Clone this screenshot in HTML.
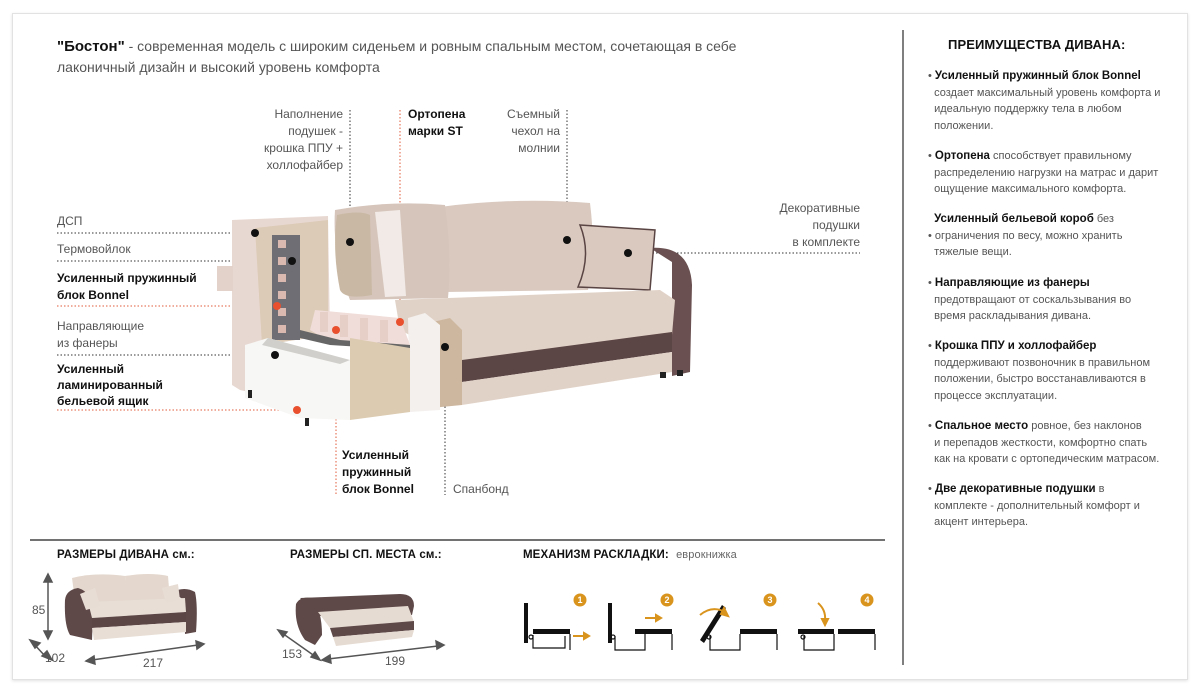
<!DOCTYPE html>
<html><head><meta charset="utf-8"><style>
*{margin:0;padding:0;box-sizing:border-box}
body{width:1200px;height:694px;background:#fff;position:relative;overflow:hidden;font-family:"Liberation Sans",sans-serif;color:#444}
.card{position:absolute;left:12px;top:13px;width:1176px;height:667px;border:1px solid #e2e2e2;box-shadow:0 1px 3px rgba(0,0,0,.12);background:#fff}
.t{position:absolute;font-size:12px;line-height:17px;color:#555;white-space:nowrap}
.b{font-weight:bold;color:#111}
.r{text-align:right}
.hd{position:absolute;font-size:11.5px;font-weight:bold;color:#111;letter-spacing:.1px}
.adv{position:absolute;left:928px;width:250px;font-size:11px;line-height:16.5px;color:#555}
.adv b{color:#111;font-weight:900;font-size:11.5px}
</style></head><body>
<div class="card"></div>
<div class="t" style="left:57px;top:36px;font-size:14px;line-height:21px;color:#555"><b style="color:#111;font-size:15px">"Бостон"</b> - современная модель с широким сиденьем и ровным спальным местом, сочетающая в себе<br>лаконичный дизайн и высокий уровень комфорта</div>

<svg style="position:absolute;left:0;top:0" width="1200" height="694">
<g fill="none" stroke-width="1" stroke-dasharray="1.5,2">
<line x1="57" y1="233" x2="255" y2="233" stroke="#333"/>
<line x1="57" y1="261" x2="292" y2="261" stroke="#333"/>
<line x1="57" y1="306" x2="277" y2="306" stroke="#e05a3a"/>
<line x1="57" y1="355" x2="275" y2="355" stroke="#333"/>
<line x1="57" y1="410" x2="297" y2="410" stroke="#e05a3a"/>
<line x1="350" y1="110" x2="350" y2="242" stroke="#333"/>
<line x1="400" y1="110" x2="400" y2="320" stroke="#e05a3a"/>
<line x1="567" y1="110" x2="567" y2="240" stroke="#333"/>
<line x1="628" y1="253" x2="860" y2="253" stroke="#333"/>
<line x1="336" y1="370" x2="336" y2="495" stroke="#e05a3a"/>
<line x1="445" y1="347" x2="445" y2="495" stroke="#333"/>
</g>
<!-- sofa -->
<path d="M440 207 Q515 197 590 203 Q596 250 588 290 L445 292 Q436 250 440 207Z" fill="#d9c9bf"/>
<path d="M335 210 Q390 200 445 205 Q452 255 448 298 L350 300 Q332 255 335 210Z" fill="#d6c5bb"/>
<path d="M337 215 Q360 210 370 215 L372 295 Q345 300 340 290 Q332 250 337 215Z" fill="#c9b9a4"/>
<path d="M375 212 L400 210 L406 296 L385 297Z" fill="#f1eae6"/>
<path d="M650 248 Q690 245 692 285 L690 372 L672 376 L672 262Z" fill="#6a5050"/>
<path d="M580 225 L655 230 L650 290 L578 287 Q592 255 580 225Z" fill="#d9c9bf" stroke="#5a4443" stroke-width="1.5"/>
<path d="M395 300 L660 290 L675 300 L672 335 L462 362 L400 330Z" fill="#e1d2c7"/>
<path d="M462 360 L672 332 L672 352 L462 382Z" fill="#5c4545"/>
<path d="M462 382 L672 352 L672 372 L462 405Z" fill="#e1d2c7"/>
<path d="M420 325 L450 318 L462 330 L462 405 L410 410Z" fill="#cdb79f"/>
<path d="M408 318 L425 313 L440 325 L440 410 L410 412Z" fill="#f4f0ee"/>
<path d="M232 220 L328 216 L330 335 L262 345 L262 395 L240 390 L232 385Z" fill="#e8d8d2"/>
<path d="M255 228 L328 220 L328 335 L262 345Z" fill="#dccbb6"/>
<rect x="217" y="266" width="16" height="25" fill="#e3d2c9"/>
<rect x="272" y="235" width="28" height="105" fill="#6e6e74"/>
<g fill="#d9b9b0"><rect x="278" y="240" width="8" height="8"/><rect x="278" y="257" width="8" height="8"/><rect x="278" y="274" width="8" height="8"/><rect x="278" y="291" width="8" height="8"/><rect x="278" y="308" width="8" height="8"/><rect x="278" y="325" width="8" height="8"/></g>
<path d="M315 310 L400 318 L410 345 L335 345 L310 330Z" fill="#f0dcd8"/>
<path d="M300 330 L340 340 L410 345 L410 350 L330 345 L300 338Z" fill="#666"/>
<g fill="#e6cfc7"><rect x="320" y="312" width="8" height="20"/><rect x="340" y="315" width="8" height="22"/><rect x="360" y="318" width="8" height="22"/><rect x="380" y="320" width="8" height="22"/></g>
<path d="M350 338 L410 348 L410 412 L350 420Z" fill="#dccbb0"/>
<path d="M245 345 L268 338 L350 360 L350 420 L300 418 L245 398Z" fill="#f7f7f5"/>
<path d="M268 338 L350 360 L340 364 L262 345Z" fill="#d0cfcb"/>
<rect x="248" y="390" width="4" height="8" fill="#222"/><rect x="305" y="418" width="4" height="8" fill="#222"/>
<rect x="660" y="372" width="6" height="6" fill="#222"/><rect x="677" y="370" width="6" height="6" fill="#222"/>
<g fill="#111"><circle cx="255" cy="233" r="4"/><circle cx="292" cy="261" r="4"/><circle cx="275" cy="355" r="4"/><circle cx="350" cy="242" r="4"/><circle cx="567" cy="240" r="4"/><circle cx="628" cy="253" r="4"/><circle cx="445" cy="347" r="4"/></g>
<g fill="#e8502e"><circle cx="277" cy="306" r="4"/><circle cx="297" cy="410" r="4"/><circle cx="336" cy="330" r="4"/><circle cx="400" cy="322" r="4"/></g>
<!-- dividers -->
<line x1="903" y1="30" x2="903" y2="665" stroke="#555" stroke-width="1.5"/>
<line x1="30" y1="540" x2="885" y2="540" stroke="#444" stroke-width="1.5"/>
<!-- small sofa 1 -->
<path d="M72 578 Q95 572 125 576 L128 605 L76 608Z" fill="#e4d8ce"/>
<path d="M125 576 Q150 572 168 576 L170 600 L127 603Z" fill="#e4d8ce"/>
<path d="M65 600 Q66 590 78 588 Q92 592 93 612 L92 640 L70 635 Q64 625 65 600Z" fill="#5e4848"/>
<path d="M172 592 Q185 586 195 592 Q198 605 196 632 L185 634 L184 600Z" fill="#5e4848"/>
<path d="M88 602 L185 598 L186 612 L92 618Z" fill="#e8ded5"/>
<path d="M92 618 L186 612 L186 622 L92 628Z" fill="#5c4545"/>
<path d="M92 628 L186 622 L186 632 L94 640Z" fill="#e8ded5"/>
<path d="M80 594 L95 588 L100 606 L86 610Z" fill="#e8ddd5"/>
<path d="M162 588 L178 584 L180 600 L166 603Z" fill="#e8ddd5"/>
<!-- small sofa 2 -->
<path d="M300 598 L400 594 Q414 594 414 606 L412 615 L320 616 Z" fill="#5e4848"/>
<path d="M296 604 Q300 596 312 598 Q322 610 322 635 L315 645 L305 640 Q294 625 296 604Z" fill="#5e4848"/>
<path d="M318 612 L408 606 L414 622 L330 628Z" fill="#e6dbd2"/>
<path d="M330 628 L414 621 L414 630 L333 637Z" fill="#5e4848"/>
<path d="M333 637 L414 630 L412 637 L336 646Z" fill="#e6dbd2"/>
<g stroke="#555" stroke-width="1.5" fill="#555">
<line x1="48" y1="578" x2="48" y2="635"/><path d="M44 582 L48 574 L52 582Z"/><path d="M44 631 L48 639 L52 631Z"/>
<line x1="33" y1="643" x2="45" y2="656"/><path d="M52 660 L42 656 L47 651Z"/>
<path d="M30 640 L40 643 L35 648Z"/>
<line x1="92" y1="660" x2="198" y2="645"/><path d="M86 661 L94 656 L95 664Z"/><path d="M204 644 L196 641 L197 649Z"/>
<line x1="282" y1="633" x2="316" y2="657"/><path d="M278 630 L287 632 L283 637Z"/><path d="M320 660 L311 657 L315 652Z"/>
<line x1="328" y1="659" x2="438" y2="646"/><path d="M322 660 L330 655 L331 663Z"/><path d="M444 645 L436 641 L437 649Z"/>
</g>
<!-- mechanism -->
<g fill="#d9941e"><circle cx="580" cy="600" r="6.5"/><circle cx="667" cy="600" r="6.5"/><circle cx="770" cy="600" r="6.5"/><circle cx="867" cy="600" r="6.5"/></g>
<g fill="#fff" font-size="9" font-weight="bold" text-anchor="middle" font-family="Liberation Sans"><text x="580" y="603">1</text><text x="667" y="603">2</text><text x="770" y="603">3</text><text x="867" y="603">4</text></g>
<g fill="#111">
<rect x="524" y="603" width="4" height="40"/><rect x="533" y="629" width="37" height="5"/>
<rect x="608" y="603" width="4" height="40"/><rect x="635" y="629" width="37" height="5"/>
<path d="M700 640 L722 605 L726 608 L704 643Z"/><rect x="740" y="629" width="37" height="5"/>
<rect x="798" y="629" width="36" height="5"/><rect x="838" y="629" width="37" height="5"/>
</g>
<g fill="none" stroke="#111" stroke-width="1.2">
<path d="M533 635 L533 648 L565 648 L565 636 M570 634 L570 650"/>
<path d="M615 636 L615 650 L645 650 L645 634 M672 634 L672 650"/>
<path d="M710 636 L710 650 L740 650 L740 634 M777 634 L777 650"/>
<path d="M804 636 L804 650 L834 650 L834 634 M875 634 L875 650"/>
<circle cx="531" cy="637" r="2"/><circle cx="613" cy="637" r="2"/><circle cx="709" cy="637" r="2"/><circle cx="803" cy="637" r="2"/>
</g>
<g stroke="#d9941e" stroke-width="2" fill="#d9941e">
<line x1="573" y1="636" x2="584" y2="636"/><path d="M584 633 L589 636 L584 639Z"/>
<line x1="645" y1="618" x2="656" y2="618"/><path d="M656 615 L661 618 L656 621Z"/>
<path d="M700 615 Q712 605 725 612" fill="none"/><path d="M724 608 L728 616 L721 614Z"/>
<path d="M818 603 Q826 610 825 620" fill="none"/><path d="M822 619 L825 625 L828 619Z"/>
</g>
</svg>

<div class="t" style="left:57px;top:213px">ДСП</div>
<div class="t" style="left:57px;top:241px">Термовойлок</div>
<div class="t b" style="left:57px;top:270px">Усиленный пружинный<br>блок Bonnel</div>
<div class="t" style="left:57px;top:318px">Направляющие<br>из фанеры</div>
<div class="t b" style="left:57px;top:361px;line-height:16px">Усиленный<br>ламинированный<br>бельевой ящик</div>
<div class="t r" style="right:857px;top:106px">Наполнение<br>подушек -<br>крошка ППУ +<br>холлофайбер</div>
<div class="t b" style="left:408px;top:106px">Ортопена<br>марки ST</div>
<div class="t r" style="right:640px;top:106px">Съемный<br>чехол на<br>молнии</div>
<div class="t r" style="right:340px;top:200px">Декоративные<br>подушки<br>в комплекте</div>
<div class="t b" style="left:342px;top:447px">Усиленный<br>пружинный<br>блок Bonnel</div>
<div class="t" style="left:453px;top:481px">Спанбонд</div>

<div class="hd" style="left:57px;top:549px">РАЗМЕРЫ ДИВАНА см.:</div>
<div class="hd" style="left:290px;top:549px">РАЗМЕРЫ СП. МЕСТА см.:</div>
<div class="hd" style="left:523px;top:549px">МЕХАНИЗМ РАСКЛАДКИ: <span style="font-weight:normal;color:#666;font-size:11px;margin-left:4px">еврокнижка</span></div>
<div class="t" style="left:32px;top:602px">85</div>
<div class="t" style="left:45px;top:650px">102</div>
<div class="t" style="left:143px;top:655px">217</div>
<div class="t" style="left:282px;top:646px">153</div>
<div class="t" style="left:385px;top:653px">199</div>

<div class="hd" style="left:948px;top:37px;font-size:13px;font-weight:900">ПРЕИМУЩЕСТВА ДИВАНА:</div>
<div class="adv" style="top:68px">• <b>Усиленный пружинный блок Bonnel</b><br>&nbsp;&nbsp;создает максимальный уровень комфорта и<br>&nbsp;&nbsp;идеальную поддержку тела в любом<br>&nbsp;&nbsp;положении.</div>
<div class="adv" style="top:148px">• <b>Ортопена</b> способствует правильному<br>&nbsp;&nbsp;распределению нагрузки на матрас и дарит<br>&nbsp;&nbsp;ощущение максимального комфорта.</div>
<div class="adv" style="top:211px">&nbsp;&nbsp;<b>Усиленный бельевой короб</b> без<br>• ограничения по весу, можно хранить<br>&nbsp;&nbsp;тяжелые вещи.</div>
<div class="adv" style="top:275px">• <b>Направляющие из фанеры</b><br>&nbsp;&nbsp;предотвращают от соскальзывания во<br>&nbsp;&nbsp;время раскладывания дивана.</div>
<div class="adv" style="top:338px">• <b>Крошка ППУ и холлофайбер</b><br>&nbsp;&nbsp;поддерживают позвоночник в правильном<br>&nbsp;&nbsp;положении, быстро восстанавливаются в<br>&nbsp;&nbsp;процессе эксплуатации.</div>
<div class="adv" style="top:418px">• <b>Спальное место</b> ровное, без наклонов<br>&nbsp;&nbsp;и перепадов жесткости, комфортно спать<br>&nbsp;&nbsp;как на кровати с ортопедическим матрасом.</div>
<div class="adv" style="top:481px">• <b>Две декоративные подушки</b> в<br>&nbsp;&nbsp;комплекте - дополнительный комфорт и<br>&nbsp;&nbsp;акцент интерьера.</div>
</body></html>
